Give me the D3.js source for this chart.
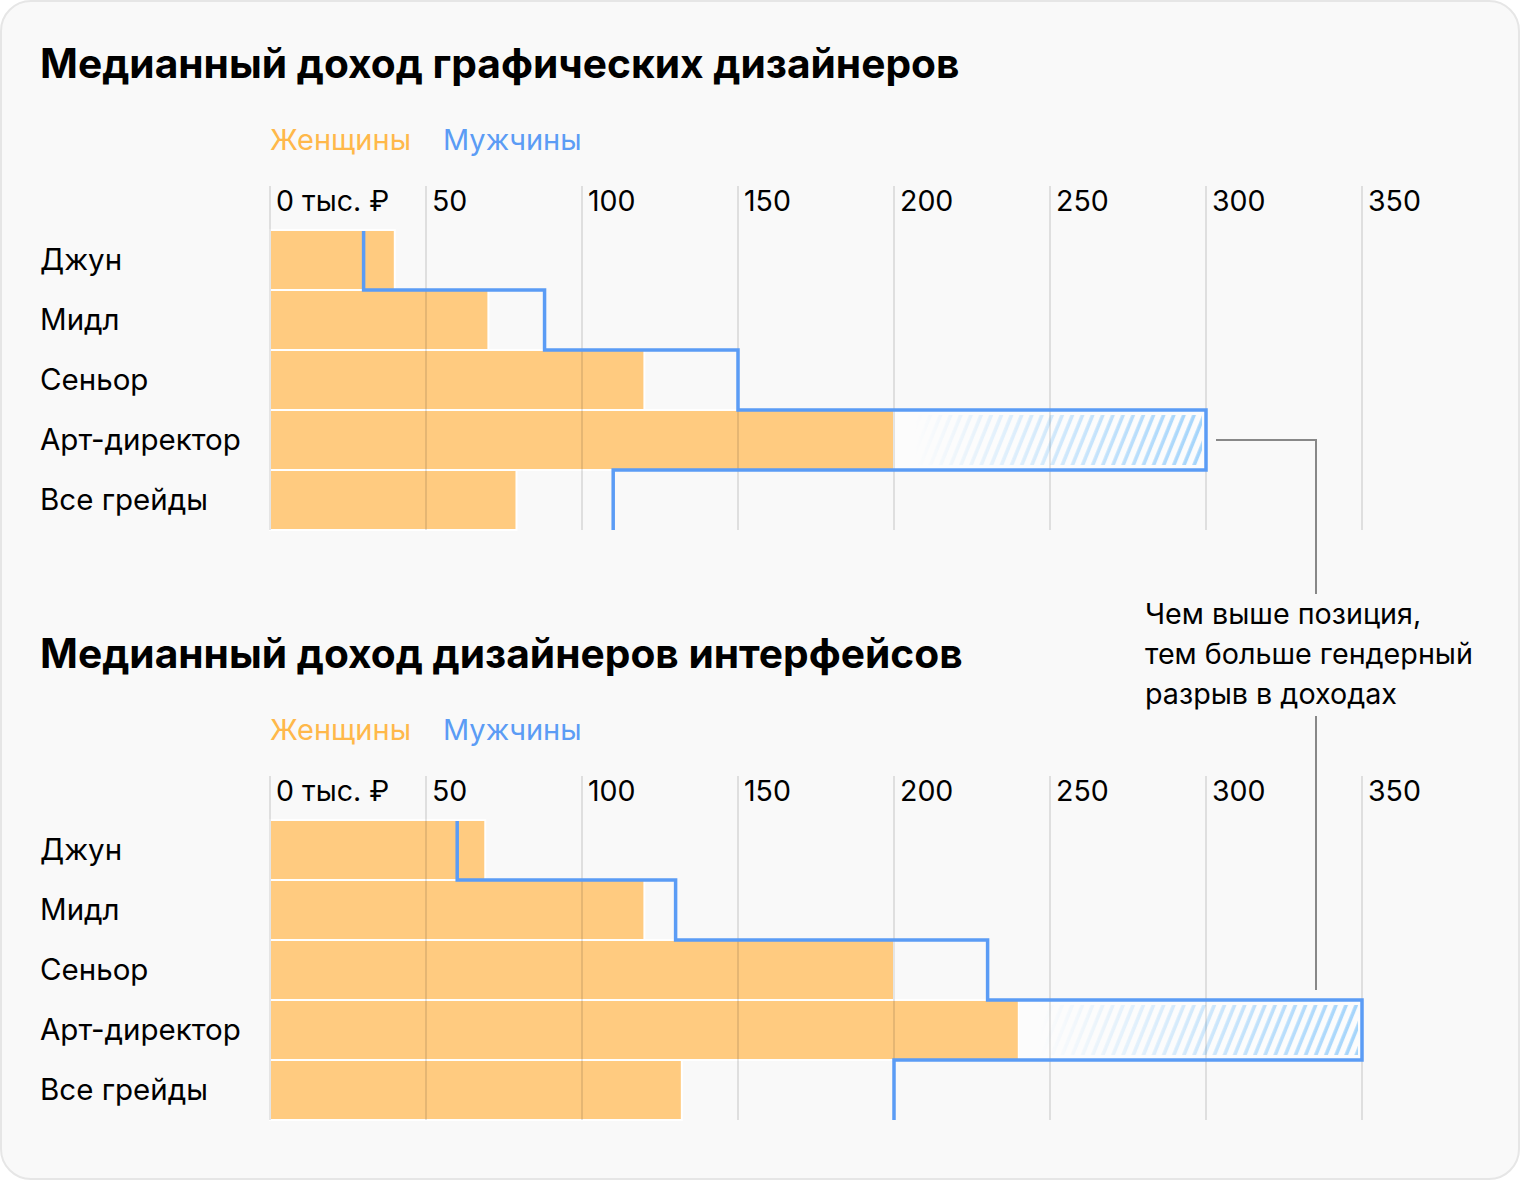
<!DOCTYPE html>
<html><head><meta charset="utf-8">
<script src="https://cdn.jsdelivr.net/npm/d3@7"></script>
<style>
html,body{margin:0;padding:0;background:#fff;}
svg{display:block;}
text{font-family:Inter,"Noto Sans",sans-serif;}
</style></head>
<body>
<svg id="c" width="1520" height="1180"></svg>
<script>
const categories = ["Джун", "Мидл", "Сеньор", "Арт-директор", "Все грейды"];
const ticks = [0, 50, 100, 150, 200, 250, 300, 350];
const tickLabels = ["0 тыс. ₽", "50", "100", "150", "200", "250", "300", "350"];
const titles = ["Медианный доход графических дизайнеров", "Медианный доход дизайнеров интерфейсов"];
const legendLabels = ["Женщины", "Мужчины"];
const womenGraphic = [40, 70, 120, 200, 79];
const menGraphic = [30, 88, 150, 300, 110];
const womenUI = [69, 120, 200, 240, 132];
const menUI = [60, 130, 230, 350, 200];
const annotationLines = ["Чем выше позиция,", "тем больше гендерный", "разрыв в доходах"];

const svg = d3.select("#c");
svg.append("rect").attr("x",1).attr("y",1).attr("width",1518).attr("height",1178)
  .attr("rx",30).attr("fill","#f9f9f9").attr("stroke","#e6e6e6").attr("stroke-width",2);

const defs = svg.append("defs");
const pat = defs.append("pattern").attr("id","hatch").attr("patternUnits","userSpaceOnUse")
  .attr("width",9.4).attr("height",20).attr("patternTransform","rotate(22)");
pat.append("line").attr("x1",3).attr("y1",-2).attr("x2",3).attr("y2",22)
  .attr("stroke","#a3d4fb").attr("stroke-width",3.6);

const x = d3.scaleLinear().domain([0,350]).range([270,1362]);

function drawChart(i, women, men, oy){
  const g = svg.append("g").attr("transform",`translate(0,${oy})`);
  g.append("text").attr("x",40).attr("y",78).attr("font-size",40.7).attr("font-weight",700)
    .attr("fill","#000").text(titles[i]);
  g.append("text").attr("x",270).attr("y",150).attr("font-size",29).attr("fill","#ffb84a").text(legendLabels[0]);
  g.append("text").attr("x",443).attr("y",150).attr("font-size",29).attr("fill","#5b9cf5").text(legendLabels[1]);

  const y = d3.scaleBand().domain(categories).range([230,530]).padding(0);

  // bars
  g.selectAll("rect.bar").data(women).join("rect").attr("class","bar")
    .attr("x",x(0)).attr("y",(d,k)=>y(categories[k]))
    .attr("width",d=>x(d)-x(0)).attr("height",y.bandwidth())
    .attr("fill","#ffcb80").attr("stroke","#fff").attr("stroke-width",2);

  // hatch for art director gap
  const k = 3;
  const hx0 = x(women[k]), hx1 = x(men[k]);
  const mid = defs.append("mask").attr("id","m"+i)
    .attr("maskUnits","userSpaceOnUse").attr("x",0).attr("y",0).attr("width",1520).attr("height",600);
  const lg = defs.append("linearGradient").attr("id","fg"+i).attr("gradientUnits","userSpaceOnUse")
    .attr("x1",hx0+20).attr("x2",hx1).attr("y1",0).attr("y2",0);
  lg.append("stop").attr("offset","0%").attr("stop-color","#fff").attr("stop-opacity",0);
  lg.append("stop").attr("offset","100%").attr("stop-color","#fff").attr("stop-opacity",1);
  mid.append("rect").attr("x",hx0).attr("y",y(categories[k])).attr("width",hx1-hx0).attr("height",y.bandwidth())
    .attr("fill",`url(#fg${i})`);
  g.append("rect").attr("x",hx0).attr("y",y(categories[k])+1).attr("width",hx1-hx0).attr("height",y.bandwidth()-2)
    .attr("fill","#fcfcfc");
  g.append("rect").attr("x",hx0+4).attr("y",y(categories[k])+5).attr("width",hx1-hx0-8).attr("height",y.bandwidth()-10)
    .attr("fill","url(#hatch)").attr("mask",`url(#m${i})`);

  // grid
  g.selectAll("line.grid").data(ticks).join("line").attr("class","grid")
    .attr("x1",d=>x(d)).attr("x2",d=>x(d)).attr("y1",186).attr("y2",530)
    .attr("stroke","#000").attr("stroke-opacity",0.1).attr("stroke-width",2);
  g.selectAll("text.tick").data(ticks).join("text").attr("class","tick")
    .attr("x",d=>x(d)+6).attr("y",211).attr("font-size",28.5).attr("fill","#000")
    .text((d,j)=>tickLabels[j]);

  // category labels
  g.selectAll("text.cat").data(categories).join("text").attr("class","cat")
    .attr("x",40).attr("y",d=>y(d)+y.bandwidth()/2+10).attr("font-size",29.5).attr("fill","#000").text(d=>d);

  // step line
  let p = d3.path();
  p.moveTo(x(men[0]), y(categories[0])+1);
  men.forEach((v,j)=>{
    const bottom = y(categories[j])+y.bandwidth();
    if(j>0) p.lineTo(x(v), y(categories[j-1])+y.bandwidth());
    p.lineTo(x(v), bottom);
  });
  g.append("path").attr("d",p.toString()).attr("fill","none").attr("stroke","#5b9cf5")
    .attr("stroke-width",3.5).attr("stroke-linejoin","miter");
  return {g, y};
}

const c1 = drawChart(0, womenGraphic, menGraphic, 0);
const c2 = drawChart(1, womenUI, menUI, 590);

// annotation
const ay = c1.y(categories[3]) + c1.y.bandwidth()/2;
const ann = svg.append("g");
ann.append("path").attr("d",`M${x(menGraphic[3])+10},${ay} H1316 V594`)
  .attr("fill","none").attr("stroke","#888").attr("stroke-width",2);
ann.append("path").attr("d",`M1316,716 V${590+c2.y(categories[3])-10}`)
  .attr("fill","none").attr("stroke","#888").attr("stroke-width",2);
ann.selectAll("text").data(annotationLines).join("text")
  .attr("x",1145).attr("y",(d,j)=>624+j*40).attr("font-size",28.7).attr("fill","#000").text(d=>d);
</script>
</body></html>
